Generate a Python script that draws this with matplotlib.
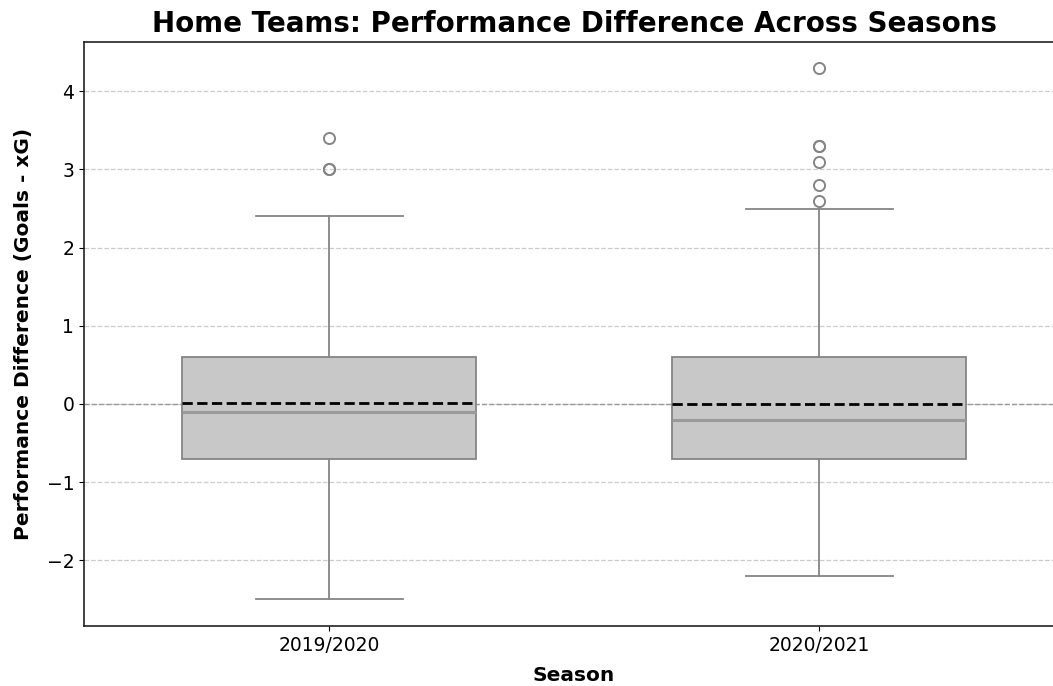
import matplotlib
matplotlib.use("Agg")
import matplotlib.pyplot as plt

# Season summaries of goals minus expected goals for home teams
seasons = ["2019/2020", "2020/2021"]
q1 = [-0.7, -0.7]
q3 = [0.6, 0.6]
medians = [-0.1, -0.2]
means = [0.01, 0.0]
whisker_low = [-2.5, -2.2]
whisker_high = [2.4, 2.5]
outliers = [
    [3.4, 3.0, 3.0],
    [4.3, 3.3, 3.3, 3.1, 2.8, 2.6],
]

stats = []
for i, name in enumerate(seasons):
    stats.append(dict(
        label=name, q1=q1[i], q3=q3[i], med=medians[i], mean=means[i],
        whislo=whisker_low[i], whishi=whisker_high[i], fliers=outliers[i],
    ))

fig = plt.figure(figsize=(10.53, 6.86), dpi=100)
ax = fig.add_axes([84 / 1053, 1 - 626 / 686, 980 / 1053, 584 / 686])

line_grey = "#858585"
ax.yaxis.grid(True, linestyle="--", color="#cccccc", linewidth=0.9, zorder=0)
ax.set_axisbelow(True)

ax.bxp(
    stats, positions=range(len(seasons)), widths=0.6, patch_artist=True,
    showmeans=True, meanline=True,
    boxprops=dict(facecolor="#c8c8c8", edgecolor=line_grey, linewidth=1.3),
    medianprops=dict(color="#9a9a9a", linewidth=2.2),
    meanprops=dict(color="black", linestyle="--", linewidth=2.0),
    whiskerprops=dict(color=line_grey, linewidth=1.3),
    capprops=dict(color=line_grey, linewidth=1.3),
    flierprops=dict(marker="o", markerfacecolor="none", markeredgecolor=line_grey,
                    markersize=8, markeredgewidth=1.4),
)

ax.axhline(0, color="#999999", linestyle="--", linewidth=1.0, zorder=1)

ax.set_xlim(-0.5, 1.5)
ax.set_ylim(-2.84, 4.63)
ax.set_xticks(range(len(seasons)))
ax.set_xticklabels(seasons)
ax.set_yticks([-2, -1, 0, 1, 2, 3, 4])
ax.set_yticklabels(["\u22122", "\u22121", "0", "1", "2", "3", "4"])
ax.tick_params(axis="both", labelsize=13.5)

for side in ["top", "bottom", "left", "right"]:
    ax.spines[side].set_linewidth(1.2)
    ax.spines[side].set_color("#222222")

ax.set_title("Home Teams: Performance Difference Across Seasons",
             fontsize=20, fontweight="bold", pad=7)
ax.set_xlabel("Season", fontsize=14.5, fontweight="bold", labelpad=8)
ax.set_ylabel("Performance Difference (Goals - xG)", fontsize=14.5,
              fontweight="bold", labelpad=10)

fig.savefig("out.png", dpi=100)
